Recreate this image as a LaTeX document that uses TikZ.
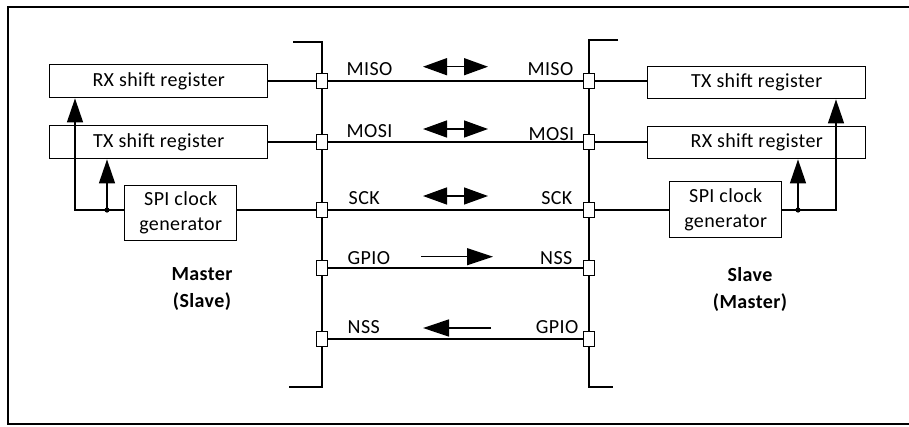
\documentclass[tikz,border=0pt]{standalone}
\usepackage{fontspec}
\setmainfont{Carlito}[LetterSpace=2]
\usetikzlibrary{arrows.meta}
\begin{document}
\begin{tikzpicture}[x=1pt,y=-1pt,line width=1.4pt,
  every node/.style={font=\fontsize{20}{23}\selectfont, inner sep=0pt},
  regbox/.style={draw, fill=white, rectangle, anchor=north west},
  pinbox/.style={draw, fill=white, rectangle, minimum width=11pt, minimum height=15pt, line width=1.3pt},
  bigtip/.style={-{Triangle[length=24pt,width=16pt]}},
  dbltip/.style={{Triangle[length=24pt,width=17pt]}-{Triangle[length=24pt,width=17pt]}},
  onetip/.style={-{Triangle[length=26pt,width=17pt]}},
  role/.style={font=\fontsize{20}{27}\selectfont\bfseries, align=center}
]
\useasboundingbox (0,0) rectangle (909,426);
% frame
\draw[line width=2pt] (909,7) -- (8,7) -- (8,424) -- (909,424);

% buses
\draw (293,42) -- (322,42) -- (322,387) -- (289,387);
\draw (618,40) -- (589,40) -- (589,387) -- (613,387);

% left boxes
\node[regbox, minimum width=218pt, minimum height=33pt] (lrx) at (49,64) {RX shift register};
\node[regbox, minimum width=218pt, minimum height=33pt] (ltx) at (49,125) {TX shift register};
\node[regbox, minimum width=112pt, minimum height=55pt, align=center, font=\fontsize{20}{25}\selectfont] (lclk) at (124,185) {SPI clock\\generator};

% right boxes
\node[regbox, minimum width=218pt, minimum height=32pt] (rtx) at (647,66) {TX shift register};
\node[regbox, minimum width=218pt, minimum height=32pt] (rrx) at (647,126) {RX shift register};
\node[regbox, minimum width=112pt, minimum height=56pt, align=center, font=\fontsize{20}{25}\selectfont] (rclk) at (669,181) {SPI clock\\generator};

% pins
\foreach \n/\y in {1/81,2/142,3/210,4/268,5/339}{
  \node[pinbox] (lp\n) at (322,\y) {};
  \node[pinbox] (rp\n) at (589,\y) {};
}

% signal lines
\draw (lrx.east |- lp1) -- (lp1);
\draw (ltx.east |- lp2) -- (lp2);
\draw (lclk.east |- lp3) -- (lp3);
\draw (rp1) -- (rtx.west |- rp1);
\draw (rp2) -- (rrx.west |- rp2);
\draw (rp3) -- (rclk.west |- rp3);
\foreach \n in {1,...,5}{ \draw (lp\n) -- (rp\n); }

% left clock distribution
\coordinate (ldot) at (107,210);
\coordinate (lcorner) at (75,210);
\draw[bigtip] (lclk.west |- ldot) -- (lcorner) -- (lcorner |- lrx.south);
\draw[bigtip] (ldot) -- (ldot |- ltx.south);
\fill (ldot) circle (2.6pt);

% right clock distribution
\coordinate (rdot) at (798,210);
\coordinate (rcorner) at (836,210);
\draw[bigtip] (rclk.east |- rdot) -- (rcorner) -- (rcorner |- rtx.south);
\draw[bigtip] (rdot) -- (rdot |- rrx.south);
\fill (rdot) circle (2.6pt);

% labels
\node[anchor=base west] (l1) at (346,75.5) {MISO};
\node[anchor=base east] (r1) at (574,75.5) {MISO};
\node[anchor=base west] (l2) at (346,137) {MOSI};
\node[anchor=base east] (r2) at (575,140) {MOSI};
\node[anchor=base west] (l3) at (348,204) {SCK};
\node[anchor=base east] (r3) at (573,204) {SCK};
\node[anchor=base west] (l4) at (347,264) {GPIO};
\node[anchor=base east] (r4) at (573,264) {NSS};
\node[anchor=base west] (l5) at (347,333) {NSS};
\node[anchor=base east] (r5) at (579,333) {GPIO};

% direction arrows
\coordinate (a1l) at (423,66.7); \coordinate (a1r) at (488,66.7);
\coordinate (a2l) at (423,129);  \coordinate (a2r) at (488,129);
\coordinate (a3l) at (423,196);  \coordinate (a3r) at (488,196);
\coordinate (a4l) at (421,256.7); \coordinate (a4r) at (493,256.7);
\coordinate (a5l) at (423,328);  \coordinate (a5r) at (491,328);
\draw[dbltip] (a1l) -- (a1r);
\draw[dbltip] (a2l) -- (a2r);
\draw[dbltip] (a3l) -- (a3r);
\draw[onetip] (a4l) -- (a4r);
\draw[onetip] (a5r) -- (a5l);

% roles
\node[role] (master) at (202,289) {Master\\(Slave)};
\node[role] (slave) at (750,289) {Slave\\(Master)};
\end{tikzpicture}
\end{document}
